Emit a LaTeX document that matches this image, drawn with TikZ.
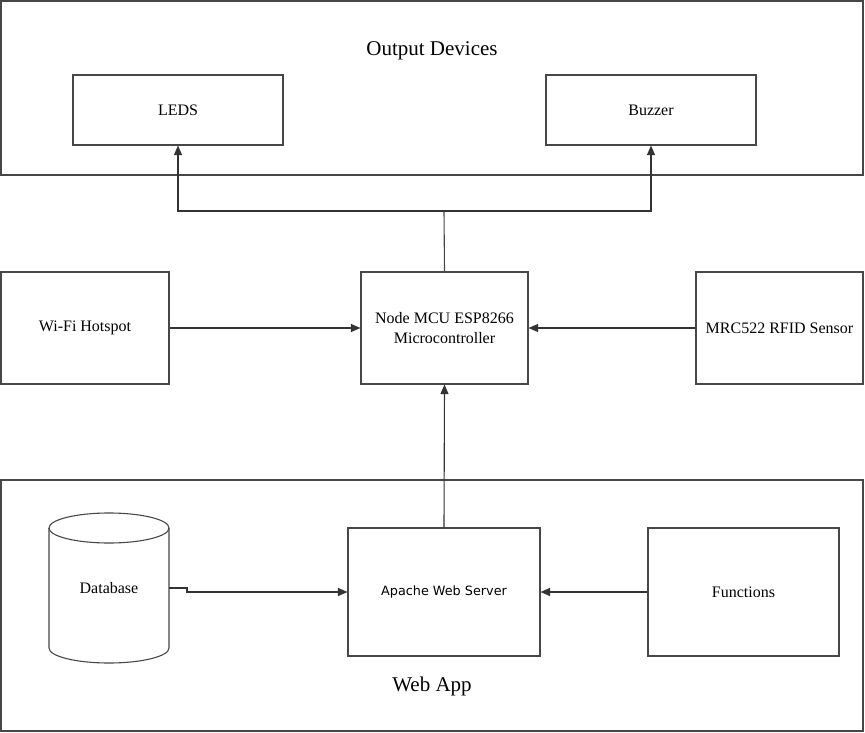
\documentclass[tikz,border=0pt]{standalone}
\usepackage{fontspec}
\setmainfont{Liberation Serif}
\newfontfamily\apfont{DejaVu Sans}
\usetikzlibrary{arrows.meta,positioning}
\begin{document}
\begin{tikzpicture}[x=1pt,y=-1pt,
  line/.style={draw=black!72,line width=1.1pt},
  blk/.style={line,rectangle,inner sep=0pt,align=center,font=\fontsize{16}{20}\selectfont},
  arr/.style={draw=black!80,line width=1.1pt,-{Triangle[length=9.5pt,width=8pt]}},
  title/.style={font=\fontsize{21}{25}\selectfont,inner sep=0pt}]
\useasboundingbox (0,0) rectangle (865,733);
% frames
\node[blk,minimum width=862pt,minimum height=174pt] (outframe) at (432,88) {};
\node[blk,minimum width=862pt,minimum height=251pt] (webframe) at (432,605.5) {};
\node[title] (outlbl) at (432,51) {Output Devices};
\node[title] (weblbl) at (432,686) {Web App};
% output devices
\node[blk,minimum width=210pt,minimum height=70pt] (leds) at (178,110) {LEDS};
\node[blk,minimum width=210pt,minimum height=70pt] (buzz) at (651,110) {Buzzer};
% middle row
\node[blk,minimum width=168pt,minimum height=112pt] (wifi) at (85,328) {Wi-Fi Hotspot};
\node[blk,minimum width=167pt,minimum height=112pt] (mcu) at (444.5,328) {Node MCU ESP8266\\Microcontroller};
\node[blk,minimum width=167pt,minimum height=112pt] (rfid) at (779.5,328) {MRC522 RFID Sensor};
% web app
\node[blk,minimum width=192pt,minimum height=128pt,font=\apfont\fontsize{12.8}{15}\selectfont] (apache) at (444,592) {Apache Web Server};
\node[blk,minimum width=191pt,minimum height=128pt] (func) at (743.5,592) {Functions};
\node[draw=none,inner sep=0pt,minimum width=120pt,minimum height=150pt,font=\fontsize{16}{20}\selectfont] (db) at (109,588) {Database};
\draw[line] (109,528) ellipse[x radius=60pt,y radius=15pt];
\draw[line] (49,528) -- (49,648) arc[start angle=180,end angle=360,x radius=60pt,y radius=15pt] -- (169,528);
% connectors
\coordinate (split) at (444,211);
\draw[line] (mcu.north) -- (split);
\draw[arr] (split) -| (leds.south);
\draw[arr] (split) -| (buzz.south);
\draw[arr] (wifi.east) -- (mcu.west);
\draw[arr] (rfid.west) -- (mcu.east);
\draw[arr] (apache.north) -- (mcu.south);
\draw[arr] (func.west) -- (apache.east);
\coordinate (dbj) at (187,588);
\draw[arr] (db.east) -- (dbj) |- (apache.west);
\end{tikzpicture}
\end{document}
